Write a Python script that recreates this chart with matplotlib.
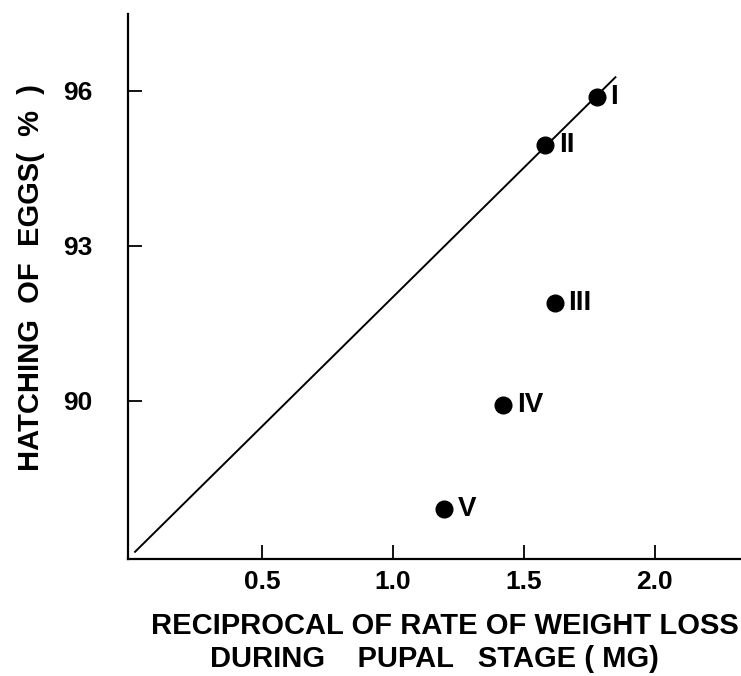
import matplotlib
matplotlib.use("Agg")
import matplotlib.pyplot as plt

# data
groups = ["I", "II", "III", "IV", "V"]
reciprocal = [1.778, 1.580, 1.618, 1.422, 1.194]
hatching = [95.88, 94.94, 91.90, 89.92, 87.90]

# fitted line end points
line_x = [0.014, 1.850]
line_y = [87.08, 96.26]

x_ticks = [0.5, 1.0, 1.5, 2.0]
x_ticklabels = ["0.5", "1.0", "1.5", "2.0"]
y_ticks = [90, 93, 96]
y_ticklabels = ["90", "93", "96"]

plain = ["Liberation Sans", "DejaVu Sans"]

fig = plt.figure(figsize=(7.41, 6.76), dpi=100)
ax = fig.add_axes([0.1734, 0.173, 0.8266, 0.806])

ax.plot(line_x, line_y, color="black", lw=1.4)
ax.plot(reciprocal, hatching, "o", color="black", ms=12)

for name, x, y in zip(groups, reciprocal, hatching):
    ax.annotate(name, (x, y), xytext=(10, 0), textcoords="offset points",
                ha="left", va="center", fontsize=20, fontweight="bold",
                family=plain)

ax.set_xlim(-0.011, 2.33)
ax.set_ylim(86.94, 97.48)

ax.spines["top"].set_visible(False)
ax.spines["right"].set_visible(False)
ax.spines["left"].set_linewidth(1.6)
ax.spines["bottom"].set_linewidth(1.6)

ax.set_xticks(x_ticks)
ax.set_xticklabels(x_ticklabels)
ax.set_yticks(y_ticks)
ax.set_yticklabels(y_ticklabels)
ax.tick_params(direction="in", length=10, width=1.3)
ax.tick_params(axis="y", pad=26)
ax.tick_params(axis="x", pad=8)
for lab in ax.get_xticklabels() + ax.get_yticklabels():
    lab.set_family(plain)
    lab.set_fontweight("bold")
    lab.set_fontsize(19)

fig.text(0.601, 0.074, "RECIPROCAL OF RATE OF WEIGHT LOSS",
         ha="center", va="center", fontsize=21, fontweight="bold", family=plain)
fig.text(0.586, 0.025, "DURING    PUPAL   STAGE ( MG)",
         ha="center", va="center", fontsize=21, fontweight="bold", family=plain)
fig.text(0.042, 0.59, "HATCHING  OF  EGGS(  %  )", rotation=90,
         ha="center", va="center", fontsize=21, fontweight="bold", family=plain)

fig.savefig("out.png", dpi=100)
